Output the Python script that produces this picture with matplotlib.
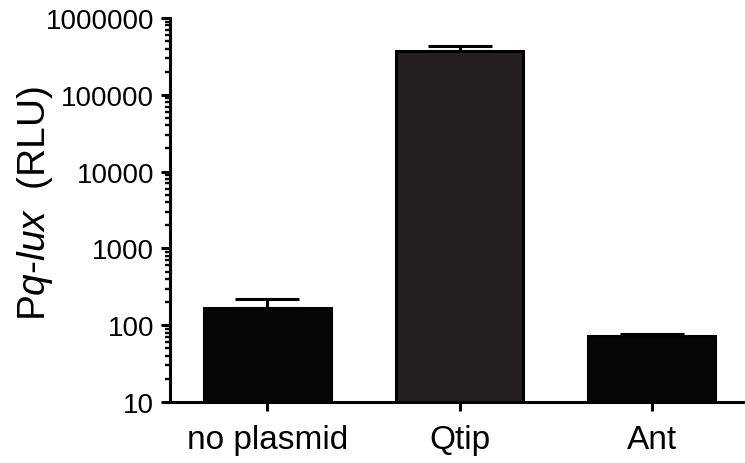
import matplotlib
matplotlib.use("Agg")
import matplotlib.pyplot as plt
from matplotlib.ticker import LogLocator, NullFormatter, FixedLocator, FixedFormatter

plt.rcParams['font.family'] = ['Liberation Sans', 'DejaVu Sans']
plt.rcParams['mathtext.fontset'] = 'custom'
plt.rcParams['mathtext.rm'] = 'Liberation Sans'
plt.rcParams['mathtext.it'] = 'Liberation Sans:italic'

categories = ["no plasmid", "Qtip", "Ant"]
means = [169, 371000, 72]
upper_err = [48, 57000, 4]
bar_colors = ["#060606", "#231f20", "#060606"]
ytick_values = [10, 100, 1000, 10000, 100000, 1000000]
ytick_labels = ["10", "100", "1000", "10000", "100000", "1000000"]

fig = plt.figure(figsize=(7.45, 4.64), dpi=100)
ax = fig.add_axes([170/745, 1-403/464, 1-170/745, (403-19)/464])

x = list(range(len(categories)))
ax.bar(x, means, width=0.66, color=bar_colors, edgecolor="black", linewidth=2.2, zorder=2)
ax.errorbar(x, means, yerr=[[0]*len(means), upper_err], fmt="none", ecolor="black",
            elinewidth=2.2, capsize=23, capthick=2.2, zorder=1)

ax.set_yscale("log")
ax.set_ylim(10, 1000000)
ax.set_xlim(-0.505, 2.484)

ax.yaxis.set_major_locator(FixedLocator(ytick_values))
ax.yaxis.set_major_formatter(FixedFormatter(ytick_labels))
ax.yaxis.set_minor_locator(LogLocator(base=10, subs=range(2, 10), numticks=20))
ax.yaxis.set_minor_formatter(NullFormatter())

ax.set_xticks(x)
ax.set_xticklabels(categories, fontsize=24)
ax.tick_params(axis='y', which='major', labelsize=20, length=6.5, width=2.2, pad=5, direction='out')
ax.tick_params(axis='y', which='minor', length=3.6, width=1.7, direction='out')
ax.tick_params(axis='x', which='major', length=6.5, width=2.2, pad=9, direction='out')

for s in ["top", "right"]:
    ax.spines[s].set_visible(False)
for s in ["left", "bottom"]:
    ax.spines[s].set_linewidth(2.2)

ax.set_ylabel("P$\\mathit{q}$-$\\mathit{lux}$  (RLU)", fontsize=28)
ax.yaxis.set_label_coords(-0.2, 0.52)

fig.savefig("out.png", dpi=100)
